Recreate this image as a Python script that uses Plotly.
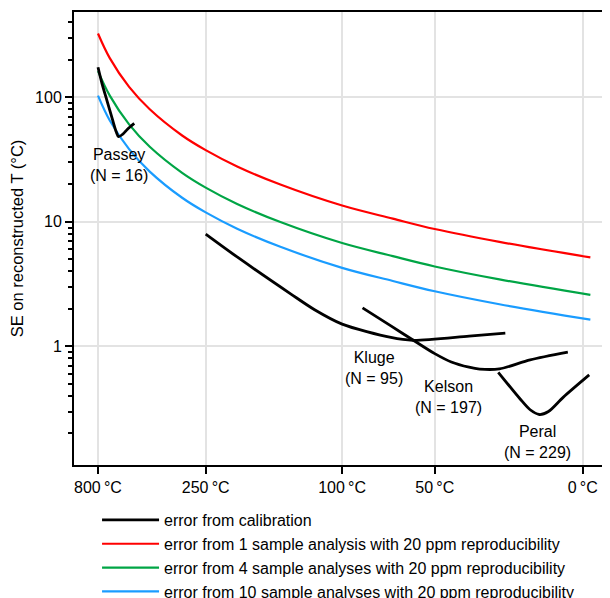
import math
import plotly.graph_objects as go

# temperatures (deg C) and standard errors
temps_theory = [800, 650, 500, 400, 300, 250, 200, 150, 100, 70, 50, 25, -2]
se_1_sample = [325, 206, 121, 80, 49.3, 37.6, 27.8, 19.9, 13.5, 10.6, 8.75, 6.9, 5.18]
se_4_samples = [162, 103, 60.5, 40, 24.7, 18.8, 13.9, 9.95, 6.75, 5.3, 4.38, 3.45, 2.59]
se_10_samples = [103, 65, 38.3, 25.3, 15.6, 11.9, 8.8, 6.3, 4.27, 3.35, 2.77, 2.18, 1.64]

passey_t = [800, 740, 680, 620, 590, 572, 540, 510, 471]
passey_se = [174, 128, 94, 64.5, 52.5, 48.2, 50.6, 55.4, 61.7]

kluge_t = [250, 200, 140, 120, 100, 71, 60, 36, 23]
kluge_se = [7.96, 5.22, 2.63, 1.97, 1.51, 1.18, 1.12, 1.21, 1.28]

kelson_t = [87, 71, 59, 50, 43, 36, 32, 25, 15, 4]
kelson_se = [2.04, 1.46, 1.10, 0.875, 0.75, 0.681, 0.658, 0.66, 0.78, 0.90]

peral_t = [25.4, 18.2, 15, 12.2, 9.5, 5.3, -1.7]
peral_se = [0.62, 0.38, 0.31, 0.284, 0.30, 0.39, 0.59]

tick_temps = [800, 250, 100, 50, 0]

FONT = "Liberation Sans, Arial, Helvetica, sans-serif"


def inv_t2(temps):
    # x axis is linear in 1e6 / T^2 (T in kelvin)
    return [1e6 / (t + 273.15) ** 2 for t in temps]


fig = go.Figure()

theory = [
    (se_1_sample, "#ff0000", "error from 1 sample analysis with 20 ppm reproducibility", 2),
    (se_4_samples, "#00a545", "error from 4 sample analyses with 20 ppm reproducibility", 3),
    (se_10_samples, "#1a9cff", "error from 10 sample analyses with 20 ppm reproducibility", 4),
]
for ys, col, name, rank in theory:
    fig.add_trace(go.Scatter(x=inv_t2(temps_theory), y=ys, mode="lines",
                             line=dict(color=col, width=2.2, shape="spline"),
                             name=name, legendrank=rank, legendgroup=name))

calib = [(passey_t, passey_se), (kluge_t, kluge_se),
         (kelson_t, kelson_se), (peral_t, peral_se)]
for i, (ts, ys) in enumerate(calib):
    fig.add_trace(go.Scatter(x=inv_t2(ts), y=ys, mode="lines",
                             line=dict(color="black", width=2.8, shape="spline", smoothing=0.8),
                             name="error from calibration", legendrank=1,
                             legendgroup="calib", showlegend=(i == 0)))

labels = [
    (572, 28.5, "Passey<br>(N = 16)"),
    (80, 0.665, "Kluge<br>(N = 95)"),
    (44, 0.395, "Kelson<br>(N = 197)"),
    (12.6, 0.17, "Peral<br>(N = 229)"),
]
for t, v, txt in labels:
    fig.add_annotation(x=inv_t2([t])[0], y=math.log10(v), text=txt, showarrow=False,
                       font=dict(size=16, color="black", family=FONT), align="center")

minor_vals = [m * 10 ** e for e in range(-1, 3) for m in range(2, 10)]

fig.update_layout(
    width=610, height=598,
    margin=dict(l=66, r=8, t=4, b=141, autoexpand=False),
    plot_bgcolor="white", paper_bgcolor="white",
    font=dict(family=FONT, size=16, color="black"),
    xaxis=dict(range=[0.248, 14.109], tickvals=inv_t2(tick_temps),
               ticktext=[f"{t}\u2009°C" for t in tick_temps],
               showgrid=True, gridcolor="#e3e3e3", gridwidth=1.5,
               showline=True, linecolor="black", linewidth=2, mirror=True,
               ticks="outside", ticklen=7, tickwidth=2, tickcolor="black",
               zeroline=False, automargin=False),
    yaxis=dict(type="log", range=[-0.952, 2.684], tickvals=[1, 10, 100],
               ticktext=["1", "10", "100"],
               showgrid=True, gridcolor="#e3e3e3", gridwidth=1.5,
               showline=True, linecolor="black", linewidth=2,
               ticks="outside", ticklen=7, tickwidth=2, tickcolor="black",
               minor=dict(tickvals=minor_vals, ticks="outside", ticklen=4,
                          tickwidth=1.5, tickcolor="black", showgrid=False),
               title=dict(text="SE on reconstructed T (°C)", font=dict(size=16.5)),
               zeroline=False, automargin=False),
    legend=dict(x=0.043, y=-0.084, xanchor="left", yanchor="top", orientation="v",
                itemwidth=57, tracegroupgap=0, font=dict(size=16),
                bgcolor="rgba(0,0,0,0)"),
)

fig.write_html("out.html")
